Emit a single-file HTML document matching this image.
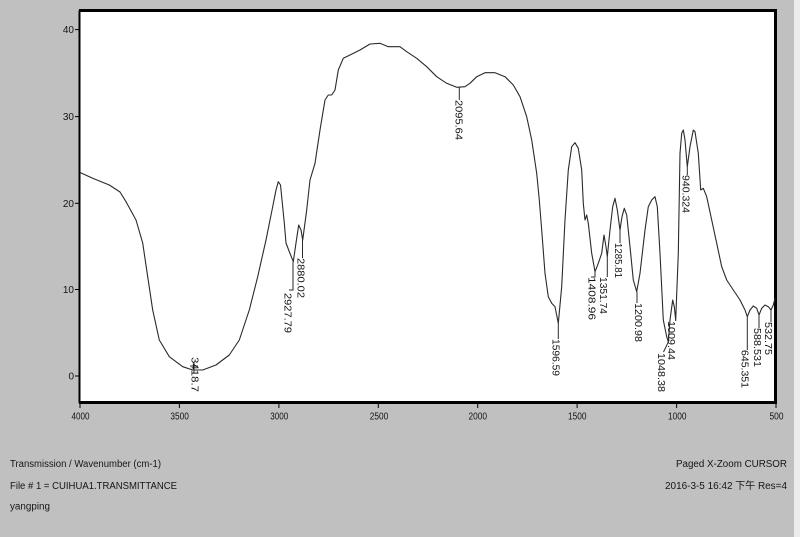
<!DOCTYPE html>
<html>
<head>
<meta charset="utf-8">
<style>
  html, body { margin:0; padding:0; }
  body { width:800px; height:537px; overflow:hidden; background:#c0c0c0; }
  svg { display:block; }
  text { font-family: "Liberation Sans", "Noto Sans CJK SC", sans-serif; fill:#151515; }
</style>
</head>
<body>
<svg width="800" height="537" viewBox="0 0 800 537" xmlns="http://www.w3.org/2000/svg">
  <rect x="0" y="0" width="800" height="537" fill="#c0c0c0"/>
  <rect x="794" y="0" width="6" height="537" fill="#ececec"/>

  <!-- plot area -->
  <rect x="80" y="11" width="696" height="391" fill="#ffffff"/>
  <!-- frame -->
  <line x1="79.5" y1="10.5" x2="79.5" y2="403" stroke="#000" stroke-width="2"/>
  <line x1="79" y1="10.5" x2="777" y2="10.5" stroke="#000" stroke-width="3"/>
  <line x1="775.5" y1="9" x2="775.5" y2="404" stroke="#000" stroke-width="3"/>
  <line x1="79" y1="402.5" x2="777" y2="402.5" stroke="#000" stroke-width="3"/>

  <!-- y ticks -->
  <g stroke="#000" stroke-width="1">
    <line x1="75" y1="29.6" x2="80" y2="29.6"/>
    <line x1="75" y1="116.6" x2="80" y2="116.6"/>
    <line x1="75" y1="203.3" x2="80" y2="203.3"/>
    <line x1="75" y1="289.5" x2="80" y2="289.5"/>
    <line x1="75" y1="376" x2="80" y2="376"/>
  </g>
  <g font-size="10" text-anchor="end">
    <text x="74" y="33.2">40</text>
    <text x="74" y="120.2">30</text>
    <text x="74" y="206.9">20</text>
    <text x="74" y="293.1">10</text>
    <text x="74" y="379.6">0</text>
  </g>

  <!-- x ticks -->
  <g stroke="#000" stroke-width="1">
    <line x1="80" y1="402" x2="80" y2="408"/>
    <line x1="179.4" y1="402" x2="179.4" y2="408"/>
    <line x1="278.9" y1="402" x2="278.9" y2="408"/>
    <line x1="378.3" y1="402" x2="378.3" y2="408"/>
    <line x1="477.7" y1="402" x2="477.7" y2="408"/>
    <line x1="577.1" y1="402" x2="577.1" y2="408"/>
    <line x1="676.6" y1="402" x2="676.6" y2="408"/>
    <line x1="776" y1="402" x2="776" y2="408"/>
  </g>
  <g font-size="10">
    <text x="71.5" y="419.5" textLength="18" lengthAdjust="spacingAndGlyphs">4000</text>
    <text x="170.4" y="419.5" textLength="18.5" lengthAdjust="spacingAndGlyphs">3500</text>
    <text x="270.2" y="419.5" textLength="18" lengthAdjust="spacingAndGlyphs">3000</text>
    <text x="369.8" y="419.5" textLength="18.5" lengthAdjust="spacingAndGlyphs">2500</text>
    <text x="468.5" y="419.5" textLength="18.5" lengthAdjust="spacingAndGlyphs">2000</text>
    <text x="568" y="419.5" textLength="18.5" lengthAdjust="spacingAndGlyphs">1500</text>
    <text x="668" y="419.5" textLength="18.5" lengthAdjust="spacingAndGlyphs">1000</text>
    <text x="769.5" y="419.5" textLength="14" lengthAdjust="spacingAndGlyphs">500</text>
  </g>

  <!-- spectrum -->
  <polyline fill="none" stroke="#2a2a2a" stroke-width="1.1" stroke-linejoin="round" points="
    80,172.5 92.7,178.3 109.3,185 120,192 126,201.7 136,220 142.7,243 147.7,276.7 152.7,310 159.3,340
    169.3,356.7 182.7,366.7 192.7,370 202.7,370 216,365 229.3,355 239.3,340 249.3,310 257.7,276.7
    266,240 272.7,206.7 276,190 278.3,181.7 280.5,185 284.3,223 286,243 289.3,251.7 293.3,261.7
    296,243 298.7,225 301,230 302.7,240 306.7,210 310,180 315,163.3 320,130 325,100 328.3,95
    331.7,95 335,90 338.3,70 343.3,58.3 350,55 360,50 370,44 380,43.3 388.3,46.7 400,46.7
    406.7,51.7 416.7,58.3 426.7,66.7 436.7,76.7 446.7,83.3 456.7,87.3 465,86.7 470,83.3
    476.7,76.7 485,72.7 495,72.7 505,76.7 513.3,85 520,96.7 526.7,116.7 531.7,140 536.7,173.3
    539.3,200 541.7,230 545,273.3 548.3,296.7 551.7,303.3 555,306.7 558.3,323.3 561.7,286.7
    565,220 568.3,170 571.7,146.7 575,142.7 578.3,148.3 581.7,170 583.3,203.3 585,220 586.7,215
    588.3,223.3 591.7,253.3 595,271.7 598.3,263.3 601.7,253.3 604,235 606,246.7 607.3,256.7
    610,230 612.7,206.7 615,198.3 617.3,210 620,230 622,216.7 624.3,208.3 626.7,215 630,246.7
    633.3,280 636.7,291.7 640,273.3 645,230 648.3,206.7 651.7,200 655,196.7 657.3,206.7 660,253.3
    663.3,320 666.7,336.7 668.3,341.7 670,320 672.7,300 674.3,306.7 675.7,320 678.3,253.3
    680,153.3 681.7,133.3 683.3,130 685,140 687.3,166.7 690,146.7 693.3,130 695,131.7 698.3,153.3
    700.7,190 703.3,188.3 706.7,196.7 711.7,220 716.7,243.3 721.7,266.7 726.7,280 733.3,290
    740,300 745,310 747.3,316.7 750,310 753.3,306 756.7,308.3 759,315 761.7,308.3 765,305
    768.3,306.7 771,310 773.3,305 775,298.3"/>

  <!-- peak markers -->
  <g stroke="#2a2a2a" stroke-width="1" fill="none">
    <line x1="194" y1="362" x2="194" y2="373"/>
    <line x1="190" y1="366" x2="198" y2="366"/>
    <polyline points="293,262 293,290 289,290"/>
    <line x1="302.5" y1="240" x2="302.5" y2="258"/>
    <line x1="459.3" y1="87.5" x2="459.3" y2="100"/>
    <line x1="558.3" y1="323.5" x2="558.3" y2="339"/>
    <polyline points="595,272 595,277 591,277"/>
    <line x1="607.3" y1="257" x2="607.3" y2="277"/>
    <line x1="620" y1="230" x2="620" y2="243"/>
    <line x1="637" y1="292" x2="637" y2="303"/>
    <line x1="668.3" y1="342" x2="663.5" y2="352"/>
    <line x1="675.7" y1="320" x2="675.7" y2="321"/>
    <line x1="687.3" y1="167" x2="687.3" y2="175"/>
    <line x1="747.3" y1="317" x2="747.3" y2="350"/>
    <line x1="759" y1="315" x2="759" y2="328"/>
    <line x1="771" y1="310" x2="771" y2="322"/>
  </g>

  <!-- peak labels (rotated) -->
  <g font-size="10">
    <text transform="translate(191.5,357) rotate(90)" textLength="35" lengthAdjust="spacingAndGlyphs">3418.7</text>
    <text transform="translate(284.5,293) rotate(90)" textLength="40" lengthAdjust="spacingAndGlyphs">2927.79</text>
    <text transform="translate(297.5,258) rotate(90)" textLength="40" lengthAdjust="spacingAndGlyphs">2880.02</text>
    <text transform="translate(455.5,100) rotate(90)" textLength="40" lengthAdjust="spacingAndGlyphs">2095.64</text>
    <text transform="translate(552.5,339) rotate(90)" textLength="37" lengthAdjust="spacingAndGlyphs">1596.59</text>
    <text transform="translate(588.5,277) rotate(90)" textLength="43" lengthAdjust="spacingAndGlyphs">1408.96</text>
    <text transform="translate(600,277) rotate(90)" textLength="37" lengthAdjust="spacingAndGlyphs">1351.74</text>
    <text transform="translate(615,243) rotate(90)" textLength="35" lengthAdjust="spacingAndGlyphs">1285.81</text>
    <text transform="translate(635,303) rotate(90)" textLength="39" lengthAdjust="spacingAndGlyphs">1200.98</text>
    <text transform="translate(658.2,353) rotate(90)" textLength="39" lengthAdjust="spacingAndGlyphs">1048.38</text>
    <text transform="translate(668,321) rotate(90)" textLength="39" lengthAdjust="spacingAndGlyphs">1009.44</text>
    <text transform="translate(682.5,175) rotate(90)" textLength="38" lengthAdjust="spacingAndGlyphs">940.324</text>
    <text transform="translate(741.5,350) rotate(90)" textLength="38" lengthAdjust="spacingAndGlyphs">645.351</text>
    <text transform="translate(754,328) rotate(90)" textLength="39" lengthAdjust="spacingAndGlyphs">588.531</text>
    <text transform="translate(765,322) rotate(90)" textLength="33" lengthAdjust="spacingAndGlyphs">532.75</text>
  </g>

  <!-- footer text -->
  <g font-size="10">
    <text x="10" y="467" textLength="151" lengthAdjust="spacingAndGlyphs">Transmission / Wavenumber (cm-1)</text>
    <text x="10" y="489" textLength="167" lengthAdjust="spacingAndGlyphs">File # 1 = CUIHUA1.TRANSMITTANCE</text>
    <text x="10" y="509.5" textLength="40" lengthAdjust="spacingAndGlyphs">yangping</text>
    <text x="676" y="467" textLength="111" lengthAdjust="spacingAndGlyphs">Paged  X-Zoom CURSOR</text>
    <text x="665" y="489" textLength="122" lengthAdjust="spacingAndGlyphs">2016-3-5  16:42 下午  Res=4</text>
  </g>
</svg>
</body>
</html>
